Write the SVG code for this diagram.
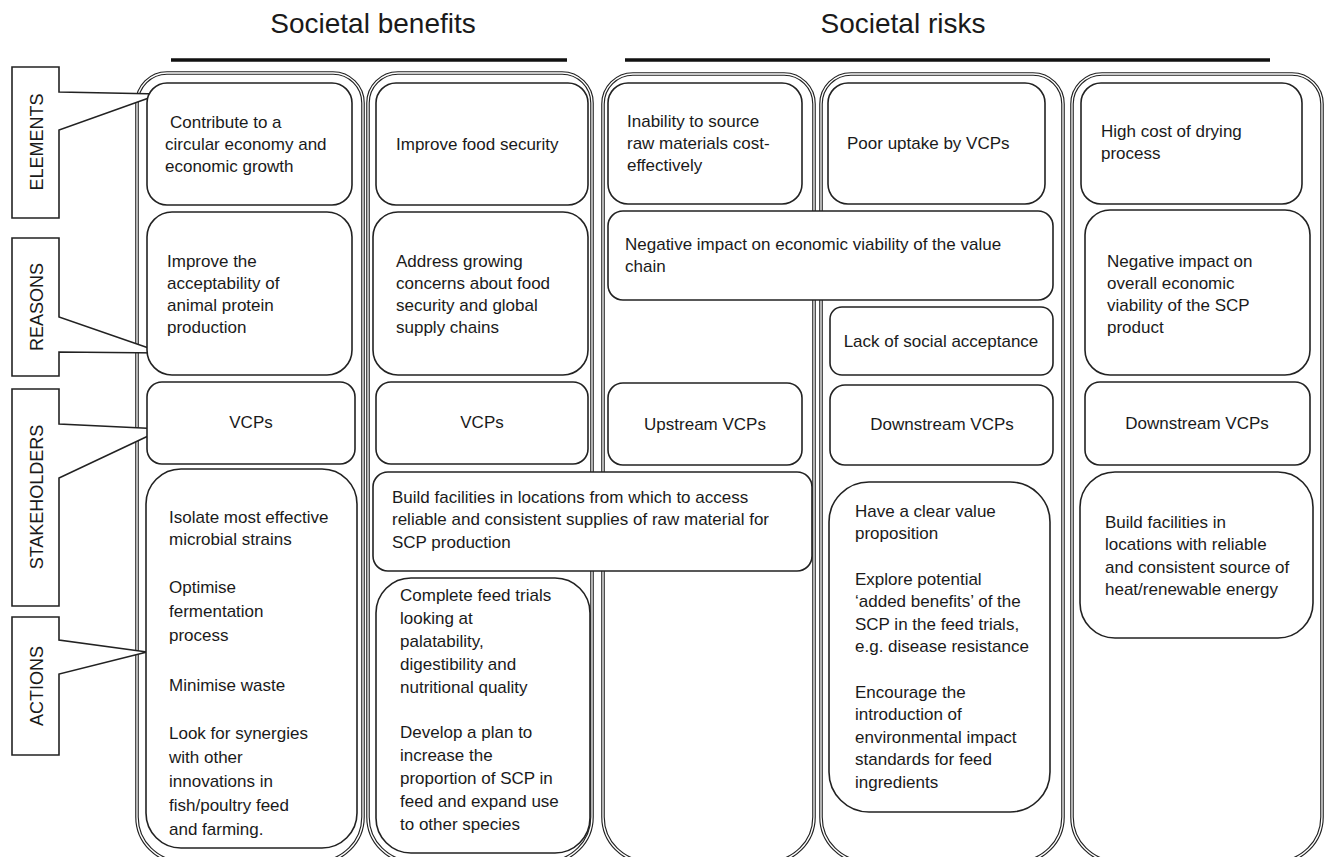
<svg xmlns="http://www.w3.org/2000/svg" width="1325" height="857" viewBox="0 0 1325 857">
<style>
.outer{fill:#fff;stroke:#222;stroke-width:3.6}
.outerin{fill:none;stroke:#fff;stroke-width:1.3}
.box{fill:#fff;stroke:#222;stroke-width:1.6}
.call{fill:#fff;stroke:#222;stroke-width:1.6;stroke-linejoin:miter}
.bar{stroke:#111;stroke-width:3.5}
text{font-family:"Liberation Sans",Arial,sans-serif;fill:#1a1a1a}
.t{font-size:17px}
.c{font-size:17px;text-anchor:middle}
.lab{font-size:18px;text-anchor:middle}
.h{font-size:28px;text-anchor:middle}
</style>
<rect width="1325" height="857" fill="#fff"/>

<g id="headings">
<text class="h" x="373" y="33">Societal benefits</text>
<line class="bar" x1="171" y1="60" x2="567" y2="60"/>
<text class="h" x="903" y="33">Societal risks</text>
<line class="bar" x1="625" y1="60" x2="1270" y2="60"/>
</g>

<g id="columns">
<path class="outer" d="M137,103 A30,30 0 0 1 167,73 H333 A30,30 0 0 1 363,103 V817 A45,45 0 0 1 318,862 H182 A45,45 0 0 1 137,817 Z"/>
<path class="outerin" d="M137,103 A30,30 0 0 1 167,73 H333 A30,30 0 0 1 363,103 V817 A45,45 0 0 1 318,862 H182 A45,45 0 0 1 137,817 Z"/>
<path class="outer" d="M368,103 A30,30 0 0 1 398,73 H562 A30,30 0 0 1 592,103 V817 A45,45 0 0 1 547,862 H413 A45,45 0 0 1 368,817 Z"/>
<path class="outerin" d="M368,103 A30,30 0 0 1 398,73 H562 A30,30 0 0 1 592,103 V817 A45,45 0 0 1 547,862 H413 A45,45 0 0 1 368,817 Z"/>
<path class="outer" d="M603,104 A30,30 0 0 1 633,74 H784 A30,30 0 0 1 814,104 V817 A45,45 0 0 1 769,862 H648 A45,45 0 0 1 603,817 Z"/>
<path class="outerin" d="M603,104 A30,30 0 0 1 633,74 H784 A30,30 0 0 1 814,104 V817 A45,45 0 0 1 769,862 H648 A45,45 0 0 1 603,817 Z"/>
<path class="outer" d="M821,104 A30,30 0 0 1 851,74 H1033 A30,30 0 0 1 1063,104 V817 A45,45 0 0 1 1018,862 H866 A45,45 0 0 1 821,817 Z"/>
<path class="outerin" d="M821,104 A30,30 0 0 1 851,74 H1033 A30,30 0 0 1 1063,104 V817 A45,45 0 0 1 1018,862 H866 A45,45 0 0 1 821,817 Z"/>
<path class="outer" d="M1072,104 A30,30 0 0 1 1102,74 H1292 A30,30 0 0 1 1322,104 V817 A45,45 0 0 1 1277,862 H1117 A45,45 0 0 1 1072,817 Z"/>
<path class="outerin" d="M1072,104 A30,30 0 0 1 1102,74 H1292 A30,30 0 0 1 1322,104 V817 A45,45 0 0 1 1277,862 H1117 A45,45 0 0 1 1072,817 Z"/>
</g>

<g id="label-elements">
<polygon class="call" points="12,67 59,67 59,92 160,94 59,130 59,218 12,218"/>
<text class="lab" transform="translate(36,142) rotate(-90)" y="6.5">ELEMENTS</text>
</g>
<g id="label-reasons">
<polygon class="call" points="12,238 59,238 59,317 163,353 59,352 59,376 12,376"/>
<text class="lab" transform="translate(36,307) rotate(-90)" y="6.5">REASONS</text>
</g>
<g id="label-stakeholders">
<polygon class="call" points="12,389 59,389 59,424 163,429 59,478 59,606 12,606"/>
<text class="lab" transform="translate(36,497) rotate(-90)" y="6.5">STAKEHOLDERS</text>
</g>
<g id="label-actions">
<polygon class="call" points="12,617 59,617 59,640 147,652 59,674 59,755 12,755"/>
<text class="lab" transform="translate(36,686) rotate(-90)" y="6.5">ACTIONS</text>
</g>

<g id="connectors"></g>

<!-- Column 1 -->
<g id="b-element-1">
<rect class="box" x="147" y="83" width="205" height="122" rx="20"/>
<text class="t" x="170" y="128">Contribute to a</text>
<text class="t" x="165" y="150">circular economy and</text>
<text class="t" x="165" y="172">economic growth</text>
</g>
<g id="b-reason-1">
<rect class="box" x="147" y="212" width="205" height="163" rx="25"/>
<text class="t" x="167" y="267">Improve the</text>
<text class="t" x="167" y="289">acceptability of</text>
<text class="t" x="167" y="311">animal protein</text>
<text class="t" x="167" y="333">production</text>
</g>
<g id="b-stake-1">
<rect class="box" x="147" y="382" width="208" height="82" rx="15"/>
<text class="c" x="251" y="428">VCPs</text>
</g>
<g id="b-action-1">
<rect class="box" x="146" y="469" width="211" height="379" rx="35"/>
<text class="t" x="169" y="523">Isolate most effective</text>
<text class="t" x="169" y="545">microbial strains</text>
<text class="t" x="169" y="593">Optimise</text>
<text class="t" x="169" y="617">fermentation</text>
<text class="t" x="169" y="641">process</text>
<text class="t" x="169" y="691">Minimise waste</text>
<text class="t" x="169" y="739">Look for synergies</text>
<text class="t" x="169" y="763">with other</text>
<text class="t" x="169" y="787">innovations in</text>
<text class="t" x="169" y="811">fish/poultry feed</text>
<text class="t" x="169" y="835">and farming.</text>
</g>

<!-- Column 2 -->
<g id="b-element-2">
<rect class="box" x="376" y="83" width="212" height="122" rx="20"/>
<text class="t" x="396" y="150">Improve food security</text>
</g>
<g id="b-reason-2">
<rect class="box" x="373" y="212" width="215" height="163" rx="25"/>
<text class="t" x="396" y="267">Address growing</text>
<text class="t" x="396" y="289">concerns about food</text>
<text class="t" x="396" y="311">security and global</text>
<text class="t" x="396" y="333">supply chains</text>
</g>
<g id="b-stake-2">
<rect class="box" x="376" y="382" width="212" height="82" rx="15"/>
<text class="c" x="482" y="428">VCPs</text>
</g>
<g id="b-action-2a">
<rect class="box" x="373" y="472" width="439" height="99" rx="15"/>
<text class="t" x="392" y="503">Build facilities in locations from which to access</text>
<text class="t" x="392" y="525">reliable and consistent supplies of raw material for</text>
<text class="t" x="392" y="548">SCP production</text>
</g>
<g id="b-action-2b">
<rect class="box" x="376" y="578" width="214" height="275" rx="35"/>
<text class="t" x="400" y="601">Complete feed trials</text>
<text class="t" x="400" y="624">looking at</text>
<text class="t" x="400" y="647">palatability,</text>
<text class="t" x="400" y="670">digestibility and</text>
<text class="t" x="400" y="693">nutritional quality</text>
<text class="t" x="400" y="738">Develop a plan to</text>
<text class="t" x="400" y="761">increase the</text>
<text class="t" x="400" y="784">proportion of SCP in</text>
<text class="t" x="400" y="807">feed and expand use</text>
<text class="t" x="400" y="830">to other species</text>
</g>

<!-- Column 3 -->
<g id="b-element-3">
<rect class="box" x="608" y="83" width="194" height="121" rx="20"/>
<text class="t" x="627" y="127">Inability to source</text>
<text class="t" x="627" y="149">raw materials cost-</text>
<text class="t" x="627" y="171">effectively</text>
</g>
<g id="b-reason-3">
<rect class="box" x="608" y="211" width="445" height="89" rx="15"/>
<text class="t" x="625" y="250">Negative impact on economic viability of the value</text>
<text class="t" x="625" y="272">chain</text>
</g>
<g id="b-stake-3">
<rect class="box" x="608" y="383" width="194" height="82" rx="15"/>
<text class="c" x="705" y="430">Upstream VCPs</text>
</g>

<!-- Column 4 -->
<g id="b-element-4">
<rect class="box" x="828" y="83" width="217" height="121" rx="20"/>
<text class="t" x="847" y="149">Poor uptake by VCPs</text>
</g>
<g id="b-reason-4">
<rect class="box" x="830" y="307" width="223" height="68" rx="12"/>
<text class="c" x="941" y="347">Lack of social acceptance</text>
</g>
<g id="b-stake-4">
<rect class="box" x="830" y="385" width="223" height="80" rx="15"/>
<text class="c" x="942" y="430">Downstream VCPs</text>
</g>
<g id="b-action-4">
<rect class="box" x="829" y="482" width="221" height="330" rx="40"/>
<text class="t" x="855" y="517">Have a clear value</text>
<text class="t" x="855" y="539">proposition</text>
<text class="t" x="855" y="585">Explore potential</text>
<text class="t" x="855" y="607">‘added benefits’ of the</text>
<text class="t" x="855" y="630">SCP in the feed trials,</text>
<text class="t" x="855" y="652">e.g. disease resistance</text>
<text class="t" x="855" y="698">Encourage the</text>
<text class="t" x="855" y="720">introduction of</text>
<text class="t" x="855" y="743">environmental impact</text>
<text class="t" x="855" y="765">standards for feed</text>
<text class="t" x="855" y="788">ingredients</text>
</g>

<!-- Column 5 -->
<g id="b-element-5">
<rect class="box" x="1081" y="83" width="221" height="121" rx="20"/>
<text class="t" x="1101" y="137">High cost of drying</text>
<text class="t" x="1101" y="159">process</text>
</g>
<g id="b-reason-5">
<rect class="box" x="1085" y="210" width="225" height="165" rx="25"/>
<text class="t" x="1107" y="267">Negative impact on</text>
<text class="t" x="1107" y="289">overall economic</text>
<text class="t" x="1107" y="311">viability of the SCP</text>
<text class="t" x="1107" y="333">product</text>
</g>
<g id="b-stake-5">
<rect class="box" x="1085" y="382" width="225" height="83" rx="15"/>
<text class="c" x="1197" y="429">Downstream VCPs</text>
</g>
<g id="b-action-5">
<rect class="box" x="1080" y="472" width="233" height="166" rx="35"/>
<text class="t" x="1105" y="528">Build facilities in</text>
<text class="t" x="1105" y="550">locations with reliable</text>
<text class="t" x="1105" y="573">and consistent source of</text>
<text class="t" x="1105" y="595">heat/renewable energy</text>
</g>
</svg>
